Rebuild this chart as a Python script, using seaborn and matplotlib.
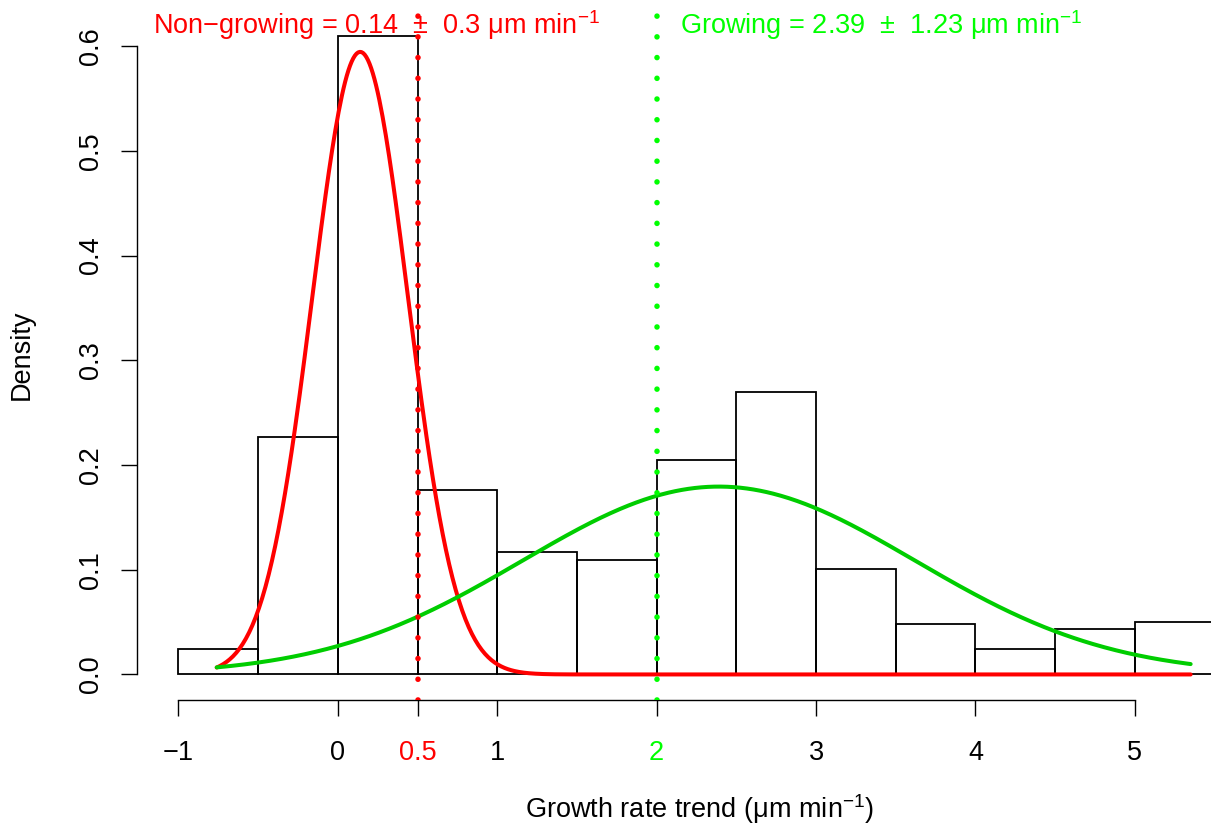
import numpy as np
import pandas as pd
import matplotlib
matplotlib.use("Agg")
import matplotlib.pyplot as plt
import seaborn as sns

# ---- data ----
bin_edges = [-1.0, -0.5, 0.0, 0.5, 1.0, 1.5, 2.0, 2.5, 3.0, 3.5, 4.0, 4.5, 5.0, 5.5]
densities = [0.024, 0.227, 0.610, 0.176, 0.117, 0.109, 0.205, 0.270, 0.101, 0.048, 0.024, 0.043, 0.050]

group_names = ["Non\u2212growing", "Growing"]
group_means = [0.14, 2.39]
group_sds = [0.30, 1.23]
group_weights = [0.447, 0.553]
curve_range = [-0.76, 5.35]
thresholds = [0.5, 2.0]

x_ticks = [-1, 0, 1, 3, 4, 5]
y_ticks = [0.0, 0.1, 0.2, 0.3, 0.4, 0.5, 0.6]

RED = "#FF0000"
GREEN = "#00FF00"
GREEN_CURVE = "#00CD00"

sns.set_style("ticks")
plt.rcParams["font.family"] = ["Liberation Sans", "DejaVu Sans"]
plt.rcParams["mathtext.fontset"] = "custom"
plt.rcParams["mathtext.rm"] = "Liberation Sans"
plt.rcParams["mathtext.it"] = "Liberation Sans:italic"
plt.rcParams["mathtext.default"] = "regular"
plt.rcParams["text.color"] = "black"
plt.rcParams["axes.labelcolor"] = "black"
plt.rcParams["xtick.color"] = "black"
plt.rcParams["ytick.color"] = "black"

FS = 19.5

W, H = 1211, 826
fig = plt.figure(figsize=(W / 100, H / 100), dpi=100)
# plot region: px x 137..1256 (beyond the figure), y 10..700
left_px, right_px, top_px, bot_px = 137, 1256, 10, 700
ax = fig.add_axes([left_px / W, (H - bot_px) / H, (right_px - left_px) / W, (bot_px - top_px) / H])
ax.set_xlim(-1.26, 5.76)
ax.set_ylim(-0.0244, 0.6344)

centers = [(a + b) / 2 for a, b in zip(bin_edges[:-1], bin_edges[1:])]
hist_df = pd.DataFrame({"x": centers, "w": densities})
sns.histplot(data=hist_df, x="x", weights="w", bins=bin_edges, stat="count",
             fill=False, color="black", linewidth=1.3, ax=ax)

# fitted mixture components
xs = np.linspace(curve_range[0], curve_range[1], 600)
curve_colors = [RED, GREEN_CURVE]
for m, s, w, c in zip(group_means, group_sds, group_weights, curve_colors):
    ys = w * np.exp(-0.5 * ((xs - m) / s) ** 2) / (s * np.sqrt(2 * np.pi))
    sns.lineplot(x=xs, y=ys, color=c, linewidth=2.9, ax=ax)

# threshold dotted lines
for t, c in zip(thresholds, [RED, GREEN]):
    ax.axvline(t, color=c, linewidth=4.0, linestyle=(0, (0.01, 3.72)),
               dash_capstyle="round", zorder=5)

# axes styling (R base style)
for sp in ["top", "right"]:
    ax.spines[sp].set_visible(False)
ax.spines["bottom"].set_bounds(-1, 5)
ax.spines["left"].set_bounds(0, 0.6)
for sp in ["bottom", "left"]:
    ax.spines[sp].set_linewidth(1.0)
    ax.spines[sp].set_color("black")

all_ticks = sorted(x_ticks + thresholds)
def fmt(v):
    return ("%g" % v).replace("-", "\u2212")
ax.set_xticks(all_ticks)
ax.set_xticklabels([fmt(v) for v in all_ticks])
ax.set_yticks(y_ticks)
ax.set_yticklabels(["%.1f" % v for v in y_ticks], rotation=90, va="center")
ax.tick_params(axis="both", direction="out", length=11.5, width=1.0,
               labelsize=FS, colors="black")
ax.tick_params(axis="x", pad=17)
ax.tick_params(axis="y", pad=12)
for tick, v in zip(ax.xaxis.get_major_ticks(), all_ticks):
    if v == thresholds[0]:
        tick.tick1line.set_color(RED)
        tick.label1.set_color(RED)
    elif v == thresholds[1]:
        tick.tick1line.set_color(GREEN)
        tick.label1.set_color(GREEN)

ax.set_xlabel("")
ax.set_ylabel("")
fig.text(700 / W, 1 - 809 / H, r"Growth rate trend (μm min$^{-1}$)",
         ha="center", va="center", fontsize=FS, color="black")
fig.text(22 / W, 1 - 355 / H, "Density", rotation=90, ha="center", va="center",
         fontsize=FS, color="black")

# annotations at top
txt_red = group_names[0] + " = %g  \u00b1  %g μm min$^{-1}$" % (group_means[0], group_sds[0])
txt_green = group_names[1] + " = %g  \u00b1  %g μm min$^{-1}$" % (group_means[1], group_sds[1])
fig.text(153 / W, 1 - 25 / H, txt_red, ha="left", va="center", fontsize=FS, color=RED)
fig.text(680 / W, 1 - 25 / H, txt_green, ha="left", va="center", fontsize=FS, color=GREEN)

ax.set_facecolor("white")
fig.patch.set_facecolor("white")
fig.savefig("out.png", dpi=100)
